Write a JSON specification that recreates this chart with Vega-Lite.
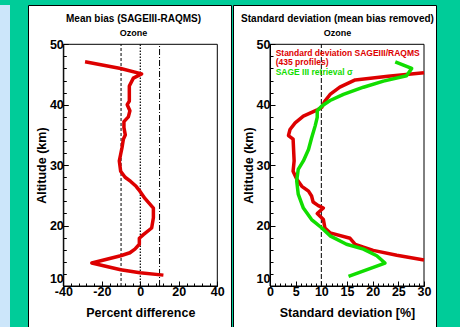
{
  "$schema": "https://vega.github.io/schema/vega-lite/v6.json",
  "background": "#00CC99",
  "padding": {"left": 0, "top": 4, "right": 24, "bottom": 0},
  "config": {"font": "Liberation Sans", "view": {"stroke": "black"}},
  "spacing": 18,
  "bounds": "flush",
  "hconcat": [
    {
      "width": 10,
      "height": 323,
      "view": {"fill": "#CCE6FA", "stroke": null},
      "data": {"values": [{}]},
      "mark": {"type": "rect", "opacity": 0},
      "encoding": {}
    },
    {
      "spacing": 2,
      "bounds": "flush",
      "hconcat": [
        {
          "width": 203,
          "height": 323,
          "view": {"fill": "white", "stroke": "black", "strokeWidth": 1},
          "title": {
            "text": "Mean bias  (SAGEIII-RAQMS)",
            "subtitle": "Ozone",
            "offset": -33,
            "dx": 4,
            "anchor": "middle",
            "frame": "group",
            "font": "Liberation Sans",
            "fontSize": 10,
            "fontWeight": "bold",
            "color": "black",
            "subtitleFont": "Liberation Sans",
            "subtitleFontSize": 9,
            "subtitleFontWeight": "bold",
            "subtitleColor": "black",
            "subtitlePadding": 5
          },
          "encoding": {
            "x": {
              "field": "x", "type": "quantitative",
              "scale": {"domain": [-40, 40], "range": [35.3, 189.3], "nice": false, "zero": false},
              "axis": {
                "values": [-40, -36, -32, -28, -24, -20, -16, -12, -8, -4, 0, 4, 8, 12, 16, 20, 24, 28, 32, 36, 40],
                "labelExpr": "datum.value % 20 === 0 ? '' + datum.value : ''",
                "tickSize": {"condition": {"test": "datum.value % 20 === 0", "value": -5}, "value": -3},
                "offset": -42,
                "grid": false,
                "domainColor": "black",
                "tickColor": "black",
                "labelColor": "black",
                "labelFont": "Liberation Sans",
                "labelFontSize": 12.5,
                "labelFontWeight": "bold",
                "labelPadding": 4,
                "labelFlush": false,
                "labelOverlap": false,
                "title": "Percent difference",
                "titleFont": "Liberation Sans",
                "titleFontSize": 12.5,
                "titleFontWeight": "bold",
                "titleColor": "black",
                "titleY": 26,
                "titleBaseline": "middle"
              }
            },
            "y": {
              "field": "y", "type": "quantitative",
              "scale": {"domain": [10, 50], "range": [281, 39.3], "nice": false, "zero": false},
              "axis": {
                "values": [10, 12, 14, 16, 18, 20, 22, 24, 26, 28, 30, 32, 34, 36, 38, 40, 42, 44, 46, 48, 50],
                "labelExpr": "datum.value % 10 === 0 ? '' + datum.value : ''",
                "tickSize": {"condition": {"test": "datum.value % 10 === 0", "value": -5}, "value": -3},
                "labelOffset": {"condition": {"test": "datum.value === 10", "value": -8}, "value": 0},
                "offset": -35.3,
                "grid": false,
                "domainColor": "black",
                "tickColor": "black",
                "labelColor": "black",
                "labelFont": "Liberation Sans",
                "labelFontSize": 12.5,
                "labelFontWeight": "bold",
                "labelPadding": 5,
                "labelFlush": false,
                "labelOverlap": false,
                "title": "Altitude (km)",
                "titleFont": "Liberation Sans",
                "titleFontSize": 12.5,
                "titleFontWeight": "bold",
                "titleColor": "black",
                "titleX": -22,
                "titleBaseline": "middle"
              }
            }
          },
          "layer": [
            {
              "data": {"values": [{"x": -40, "x2": 40, "y": 10, "y2": 50}]},
              "mark": {"type": "rect", "fillOpacity": 0, "stroke": "black", "strokeWidth": 1},
              "encoding": {"x2": {"field": "x2"}, "y2": {"field": "y2"}}
            },
            {
              "data": {"values": [{"x": -10, "y": 10, "y2": 50}]},
              "mark": {"type": "rule", "color": "black", "strokeWidth": 1, "strokeDash": [3, 2]},
              "encoding": {"y2": {"field": "y2"}}
            },
            {
              "data": {"values": [{"x": 0, "y": 10, "y2": 50}]},
              "mark": {"type": "rule", "color": "black", "strokeWidth": 1.2, "strokeDash": [1.5, 1.5]},
              "encoding": {"y2": {"field": "y2"}}
            },
            {
              "data": {"values": [{"x": 10, "y": 10, "y2": 50}]},
              "mark": {"type": "rule", "color": "black", "strokeWidth": 1, "strokeDash": [6, 2, 1, 2]},
              "encoding": {"y2": {"field": "y2"}}
            },
            {
              "data": {"values": [
                {"i": 1, "x": -28.7, "y": 47.1},
                {"i": 2, "x": -10.2, "y": 46.0},
                {"i": 3, "x": 0.7, "y": 45.1},
                {"i": 4, "x": -3.6, "y": 44.4},
                {"i": 5, "x": -5.7, "y": 43.1},
                {"i": 6, "x": -5.7, "y": 40.6},
                {"i": 7, "x": -6.8, "y": 40.0},
                {"i": 8, "x": -5.4, "y": 39.0},
                {"i": 9, "x": -6.2, "y": 38.0},
                {"i": 10, "x": -8.5, "y": 37.2},
                {"i": 11, "x": -8.5, "y": 36.2},
                {"i": 12, "x": -7.8, "y": 35.0},
                {"i": 13, "x": -8.8, "y": 34.3},
                {"i": 14, "x": -9.5, "y": 32.9},
                {"i": 15, "x": -10.2, "y": 31.8},
                {"i": 16, "x": -10.9, "y": 30.7},
                {"i": 17, "x": -10.2, "y": 29.0},
                {"i": 18, "x": -7.9, "y": 28.0},
                {"i": 19, "x": -5.0, "y": 27.3},
                {"i": 20, "x": -2.2, "y": 26.5},
                {"i": 21, "x": -0.2, "y": 25.7},
                {"i": 22, "x": 2.4, "y": 24.5},
                {"i": 23, "x": 6.8, "y": 22.9},
                {"i": 24, "x": 6.8, "y": 21.3},
                {"i": 25, "x": 5.9, "y": 19.6},
                {"i": 26, "x": 1.6, "y": 18.5},
                {"i": 27, "x": -0.5, "y": 17.9},
                {"i": 28, "x": -0.5, "y": 16.9},
                {"i": 29, "x": -2.8, "y": 16.1},
                {"i": 30, "x": -5.4, "y": 15.5},
                {"i": 31, "x": -10.2, "y": 15.0},
                {"i": 32, "x": -25.2, "y": 13.8},
                {"i": 33, "x": -10.2, "y": 12.7},
                {"i": 34, "x": -0.2, "y": 12.2},
                {"i": 35, "x": 12.0, "y": 11.8}
              ]},
              "mark": {"type": "line", "color": "#DD0000", "strokeWidth": 3.5, "strokeJoin": "round"},
              "encoding": {"order": {"field": "i", "type": "quantitative"}}
            }
          ]
        },
        {
          "width": 203,
          "height": 323,
          "view": {"fill": "white", "stroke": "black", "strokeWidth": 1},
          "title": {
            "text": "Standard deviation (mean bias removed)",
            "subtitle": "Ozone",
            "offset": -33,
            "dx": 3,
            "anchor": "middle",
            "frame": "group",
            "font": "Liberation Sans",
            "fontSize": 10,
            "fontWeight": "bold",
            "color": "black",
            "subtitleFont": "Liberation Sans",
            "subtitleFontSize": 9,
            "subtitleFontWeight": "bold",
            "subtitleColor": "black",
            "subtitlePadding": 5
          },
          "encoding": {
            "x": {
              "field": "x", "type": "quantitative",
              "scale": {"domain": [0, 30], "range": [37, 191], "nice": false, "zero": false},
              "axis": {
                "values": [0, 1, 2, 3, 4, 5, 6, 7, 8, 9, 10, 11, 12, 13, 14, 15, 16, 17, 18, 19, 20, 21, 22, 23, 24, 25, 26, 27, 28, 29, 30],
                "labelExpr": "datum.value % 5 === 0 ? '' + datum.value : ''",
                "tickSize": {"condition": {"test": "datum.value % 5 === 0", "value": -5}, "value": -3},
                "offset": -42,
                "grid": false,
                "domainColor": "black",
                "tickColor": "black",
                "labelColor": "black",
                "labelFont": "Liberation Sans",
                "labelFontSize": 12.5,
                "labelFontWeight": "bold",
                "labelPadding": 4,
                "labelFlush": false,
                "labelOverlap": false,
                "title": "Standard deviation [%]",
                "titleFont": "Liberation Sans",
                "titleFontSize": 12.5,
                "titleFontWeight": "bold",
                "titleColor": "black",
                "titleY": 26,
                "titleBaseline": "middle"
              }
            },
            "y": {
              "field": "y", "type": "quantitative",
              "scale": {"domain": [10, 50], "range": [281, 39.3], "nice": false, "zero": false},
              "axis": {
                "values": [10, 12, 14, 16, 18, 20, 22, 24, 26, 28, 30, 32, 34, 36, 38, 40, 42, 44, 46, 48, 50],
                "labelExpr": "datum.value % 10 === 0 ? '' + datum.value : ''",
                "tickSize": {"condition": {"test": "datum.value % 10 === 0", "value": -5}, "value": -3},
                "labelOffset": {"condition": {"test": "datum.value === 10", "value": -8}, "value": 0},
                "offset": -37,
                "grid": false,
                "domainColor": "black",
                "tickColor": "black",
                "labelColor": "black",
                "labelFont": "Liberation Sans",
                "labelFontSize": 12.5,
                "labelFontWeight": "bold",
                "labelPadding": 5,
                "labelFlush": false,
                "labelOverlap": false,
                "title": "Altitude (km)",
                "titleFont": "Liberation Sans",
                "titleFontSize": 12.5,
                "titleFontWeight": "bold",
                "titleColor": "black",
                "titleX": -22,
                "titleBaseline": "middle"
              }
            }
          },
          "layer": [
            {
              "data": {"values": [{"x": 0, "x2": 30, "y": 10, "y2": 50}]},
              "mark": {"type": "rect", "fillOpacity": 0, "stroke": "black", "strokeWidth": 1},
              "encoding": {"x2": {"field": "x2"}, "y2": {"field": "y2"}}
            },
            {
              "data": {"values": [{"x": 10, "y": 10, "y2": 50}]},
              "mark": {"type": "rule", "color": "black", "strokeWidth": 1, "strokeDash": [5, 2]},
              "encoding": {"y2": {"field": "y2"}}
            },
            {
              "data": {"values": [
                {"i": 1, "x": 30, "y": 45.3},
                {"i": 2, "x": 23, "y": 44.7},
                {"i": 3, "x": 16.6, "y": 44.1},
                {"i": 4, "x": 13.6, "y": 42.9},
                {"i": 5, "x": 11.7, "y": 41.7},
                {"i": 6, "x": 10.7, "y": 40.6},
                {"i": 7, "x": 10.1, "y": 39.6},
                {"i": 8, "x": 9.1, "y": 39.1},
                {"i": 9, "x": 6.5, "y": 38.1},
                {"i": 10, "x": 4.9, "y": 37.0},
                {"i": 11, "x": 3.9, "y": 35.9},
                {"i": 12, "x": 3.6, "y": 34.9},
                {"i": 13, "x": 4.5, "y": 34.3},
                {"i": 14, "x": 4.7, "y": 30.7},
                {"i": 15, "x": 4.5, "y": 29.0},
                {"i": 16, "x": 5.2, "y": 27.7},
                {"i": 17, "x": 6.2, "y": 26.5},
                {"i": 18, "x": 7.5, "y": 25.7},
                {"i": 19, "x": 8.1, "y": 24.9},
                {"i": 20, "x": 8.4, "y": 23.9},
                {"i": 21, "x": 9.4, "y": 23.3},
                {"i": 22, "x": 10.4, "y": 22.9},
                {"i": 23, "x": 9.2, "y": 22.0},
                {"i": 24, "x": 10.4, "y": 21.0},
                {"i": 25, "x": 10.7, "y": 19.6},
                {"i": 26, "x": 11.7, "y": 18.8},
                {"i": 27, "x": 15.6, "y": 17.9},
                {"i": 28, "x": 16.6, "y": 16.9},
                {"i": 29, "x": 20.1, "y": 15.9},
                {"i": 30, "x": 24.7, "y": 15.1},
                {"i": 31, "x": 30, "y": 14.3}
              ]},
              "mark": {"type": "line", "color": "#DD0000", "strokeWidth": 3.5, "strokeJoin": "round"},
              "encoding": {"order": {"field": "i", "type": "quantitative"}}
            },
            {
              "data": {"values": [
                {"i": 1, "x": 24.4, "y": 47.1},
                {"i": 2, "x": 27.6, "y": 46.0},
                {"i": 3, "x": 26.6, "y": 44.8},
                {"i": 4, "x": 22.1, "y": 43.9},
                {"i": 5, "x": 18.2, "y": 42.9},
                {"i": 6, "x": 14.3, "y": 41.7},
                {"i": 7, "x": 11.7, "y": 40.7},
                {"i": 8, "x": 10.1, "y": 39.8},
                {"i": 9, "x": 9.2, "y": 39.0},
                {"i": 10, "x": 9.2, "y": 37.9},
                {"i": 11, "x": 8.8, "y": 36.5},
                {"i": 12, "x": 8.1, "y": 34.5},
                {"i": 13, "x": 7.5, "y": 32.6},
                {"i": 14, "x": 6.5, "y": 30.7},
                {"i": 15, "x": 5.5, "y": 29.3},
                {"i": 16, "x": 5.2, "y": 27.4},
                {"i": 17, "x": 5.5, "y": 25.2},
                {"i": 18, "x": 6.5, "y": 22.9},
                {"i": 19, "x": 8.1, "y": 21.0},
                {"i": 20, "x": 10.1, "y": 19.6},
                {"i": 21, "x": 11.7, "y": 18.3},
                {"i": 22, "x": 14.9, "y": 16.9},
                {"i": 23, "x": 18.2, "y": 16.1},
                {"i": 24, "x": 20.8, "y": 15.0},
                {"i": 25, "x": 22.4, "y": 13.8},
                {"i": 26, "x": 15.3, "y": 11.6}
              ]},
              "mark": {"type": "line", "color": "#11DD00", "strokeWidth": 3.5, "strokeJoin": "round"},
              "encoding": {"order": {"field": "i", "type": "quantitative"}}
            },
            {
              "data": {"values": [
                {"label": "Standard deviation SAGEIII/RAQMS", "x": 1.1, "y": 48.6},
                {"label": "(435 profiles)", "x": 1.1, "y": 47.1}
              ]},
              "mark": {"type": "text", "align": "left", "baseline": "middle", "font": "Liberation Sans", "fontSize": 8.5, "fontWeight": "bold", "color": "#DD0000"},
              "encoding": {"text": {"field": "label"}}
            },
            {
              "data": {"values": [{"label": "SAGE III retrieval σ", "x": 1.1, "y": 45.4}]},
              "mark": {"type": "text", "align": "left", "baseline": "middle", "font": "Liberation Sans", "fontSize": 8.5, "fontWeight": "bold", "color": "#11DD00"},
              "encoding": {"text": {"field": "label"}}
            }
          ]
        }
      ]
    }
  ]
}
